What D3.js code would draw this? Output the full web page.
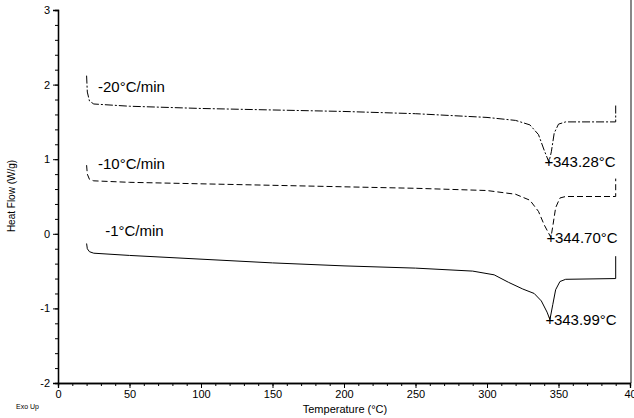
<!DOCTYPE html>
<html><head><meta charset="utf-8">
<script src="https://cdn.jsdelivr.net/npm/d3@7"></script>
<style>body{margin:0;background:#fff}text{font-family:"Liberation Sans",Arial,sans-serif}</style>
</head><body><svg width="634" height="418"></svg>
<script>
var svg = d3.select('svg');

// [temperature, heat flow]
var s20 = [[20,2.12],[20.5,1.9],[22,1.78],[25,1.74],[50,1.71],[100,1.68],[150,1.66],[200,1.64],[250,1.61],[300,1.56],[320,1.52],[330,1.46],[336,1.33],[340,1.12],[343.3,0.96],[345,1.1],[347,1.35],[350,1.47],[355,1.5],[390,1.5],[390,1.72]];
var s10 = [[20,0.92],[20.5,0.8],[22,0.73],[25,0.71],[50,0.69],[100,0.67],[150,0.65],[200,0.63],[250,0.61],[300,0.58],[320,0.53],[330,0.45],[336,0.3],[340,0.12],[344.7,-0.05],[346,0.1],[348,0.35],[351,0.48],[355,0.5],[390,0.5],[390,0.74]];
var s1 = [[20,-0.13],[20.5,-0.2],[22,-0.24],[25,-0.26],[50,-0.29],[100,-0.34],[150,-0.39],[200,-0.43],[250,-0.46],[290,-0.5],[305,-0.55],[315,-0.65],[325,-0.74],[333,-0.8],[338,-0.9],[342,-1.05],[344,-1.15],[346,-0.95],[348,-0.75],[351,-0.64],[355,-0.61],[390,-0.6],[390,-0.3]];
var series = [
  {data: s20, dash: '8,2,2,2', label: '-20°C/min', lx: 28, ly: 1.9, peak: [343.28, 0.96], pl: '343.28°C'},
  {data: s10, dash: '6,3', label: '-10°C/min', lx: 28, ly: 0.87, peak: [344.70, -0.05], pl: '344.70°C'},
  {data: s1, dash: null, label: '-1°C/min', lx: 33, ly: -0.03, peak: [343.99, -1.15], pl: '343.99°C'}
];
var xTicks = [0, 50, 100, 150, 200, 250, 300, 350, 400];
var yTicks = [-2, -1, 0, 1, 2, 3];

var x = d3.scaleLinear().domain([0, 400]).range([58, 630]);
var y = d3.scaleLinear().domain([-2, 3]).range([383, 10]);

svg.append('line').attr('x1', 631).attr('x2', 631).attr('y1', 0).attr('y2', 383)
  .attr('stroke', '#888').attr('stroke-width', 2);

svg.append('g').attr('transform', 'translate(0,383)')
  .call(d3.axisBottom(x).ticks(40).tickSize(3).tickFormat(''));
svg.append('g').attr('transform', 'translate(0,383)')
  .call(d3.axisBottom(x).tickValues(xTicks).tickSize(5).tickFormat(d => d === 400 ? '40' : d))
  .call(g => g.selectAll('text').attr('font-size', 11).attr('font-family', 'Liberation Sans').attr('dy', '0.6em'));
svg.append('g').attr('transform', 'translate(58,0)')
  .call(d3.axisLeft(y).ticks(25).tickSize(3).tickFormat(''));
svg.append('g').attr('transform', 'translate(58,0)')
  .call(d3.axisLeft(y).tickValues(yTicks).tickSize(5).tickFormat(d => String(d)))
  .call(g => g.selectAll('text').attr('font-size', 11).attr('font-family', 'Liberation Sans'));
svg.selectAll('.domain').attr('stroke-width', 1.3);

series.forEach(function(s) {
  svg.append('path').attr('d', d3.line().x(d => x(d[0])).y(d => y(d[1]))(s.data))
    .attr('fill', 'none').attr('stroke', '#000').attr('stroke-width', 1)
    .attr('stroke-dasharray', s.dash);
  svg.append('text').attr('x', x(s.lx)).attr('y', y(s.ly)).attr('font-size', 15).text(s.label);
  svg.append('text').attr('x', x(s.peak[0])).attr('y', y(s.peak[1]) + 5)
    .attr('text-anchor', 'middle').attr('font-size', 15).text('+');
  svg.append('text').attr('x', x(s.peak[0]) + 4).attr('y', y(s.peak[1]) + 5)
    .attr('font-size', 15).text(s.pl);
});

svg.append('text').attr('transform', 'translate(15,196) rotate(-90)')
  .attr('text-anchor', 'middle').attr('font-size', 10).text('Heat Flow (W/g)');
svg.append('text').attr('x', 345).attr('y', 413).attr('text-anchor', 'middle')
  .attr('font-size', 11).text('Temperature (°C)');
svg.append('text').attr('x', 16).attr('y', 409).attr('font-size', 7).text('Exo Up');
</script></body></html>
